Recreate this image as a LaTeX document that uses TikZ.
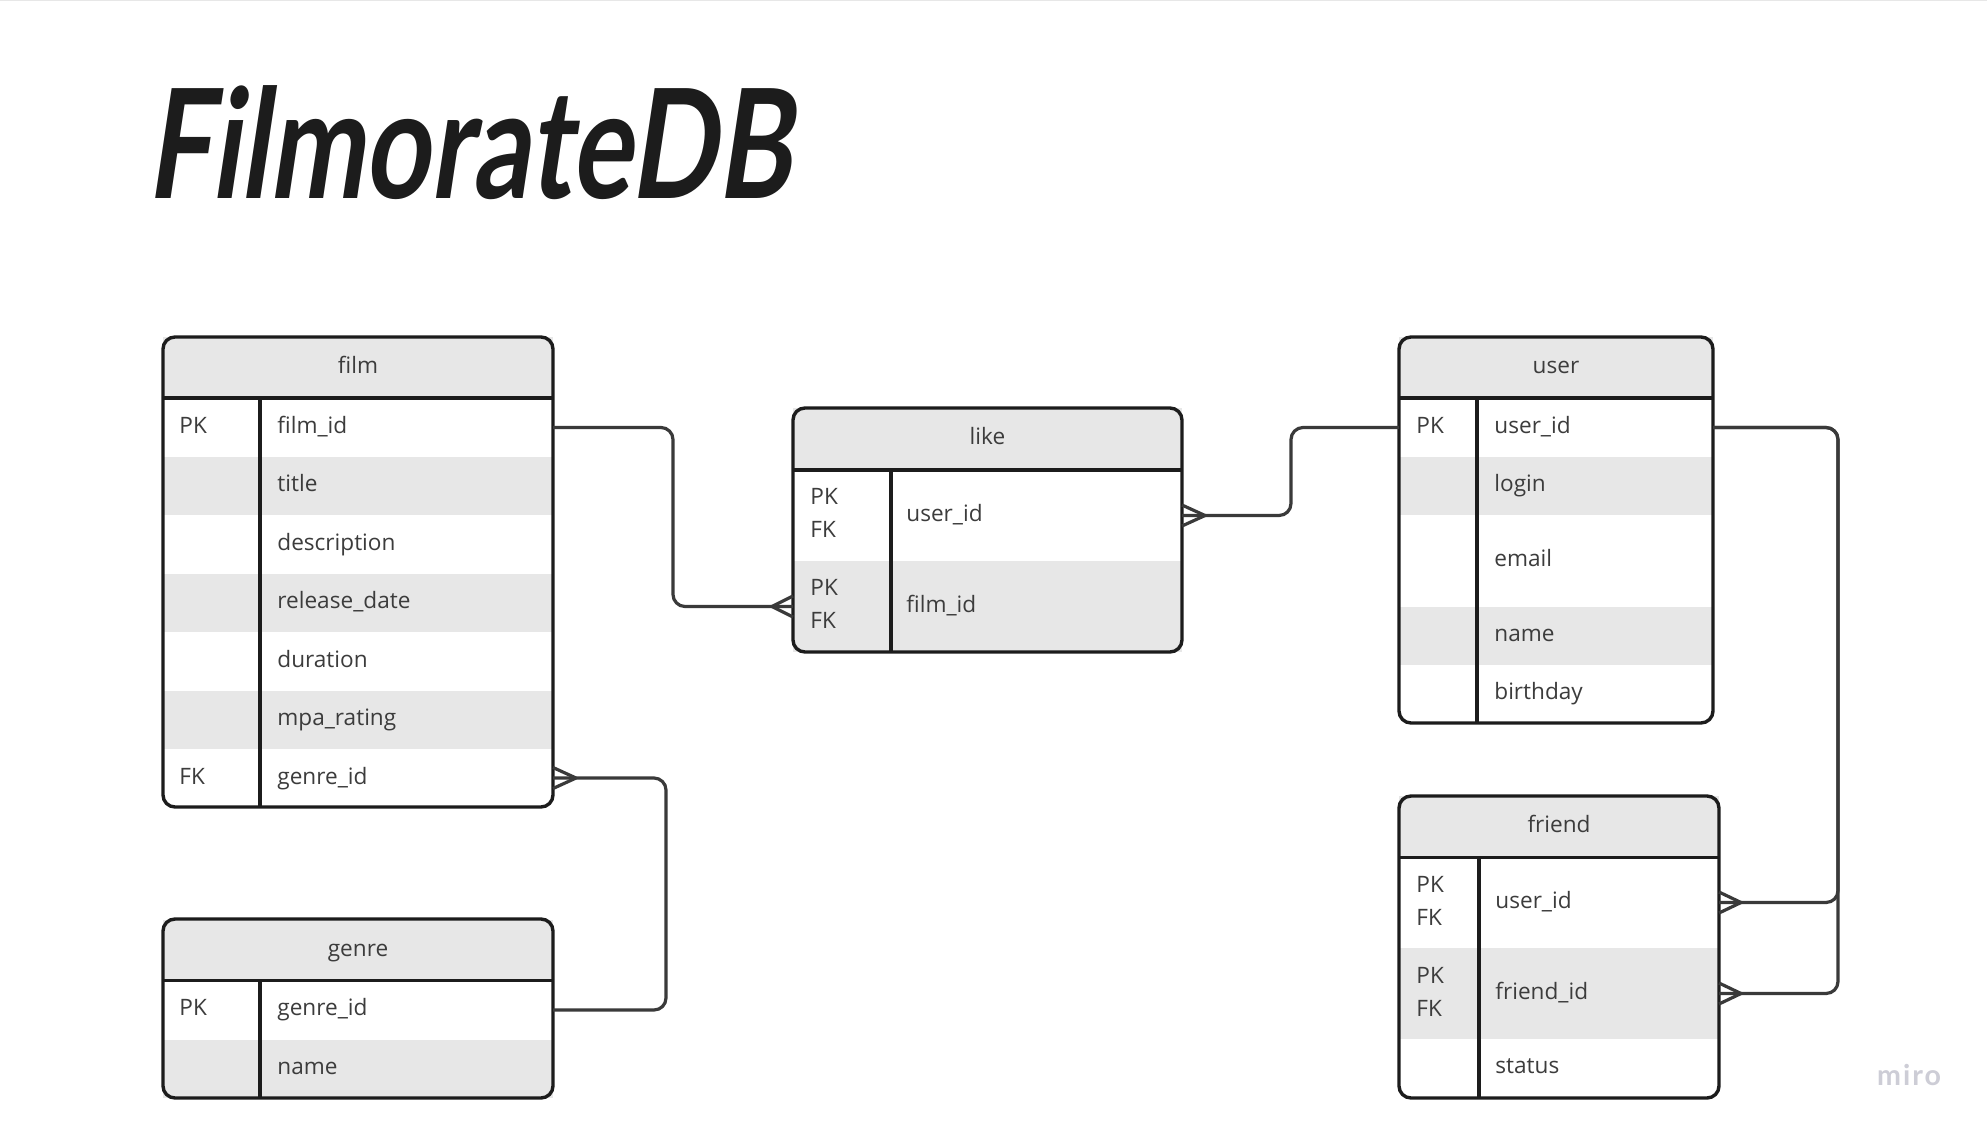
\documentclass[tikz,border=0pt]{standalone}
\usepackage{fontspec}
\setmainfont{Open Sans}
\newfontfamily\titlefont[FakeSlant=0.2]{Lato}
\newfontfamily\mironame{Lato}
\usetikzlibrary{positioning}
\definecolor{headgray}{HTML}{E7E7E7}
\definecolor{inkdark}{HTML}{1C1C1C}
\definecolor{linkgray}{HTML}{3A3A3A}
\definecolor{textgray}{HTML}{3C3C3C}
\definecolor{brandgray}{HTML}{CDCDD6}
\tikzset{
    tablebox/.style={draw=inkdark, line width=1.7pt, rounded corners=6pt, outer sep=0pt, inner sep=0pt},
    tableline/.style={draw=inkdark, line width=1.7pt},
    rowgray/.style={fill=headgray, outer sep=0pt, inner sep=0pt},
    rowwhite/.style={fill=white, outer sep=0pt, inner sep=0pt},
    cell/.style={anchor=west, inner sep=0pt, text=textgray, font=\fontsize{11.3}{16.5}\selectfont, text height=8.5pt, text depth=2.5pt},
    keycell/.style={anchor=west, inner sep=0pt, text=textgray, font=\fontsize{11.3}{16.5}\selectfont, align=left},
    headcell/.style={inner sep=0pt, text=textgray, font=\fontsize{11.3}{16.5}\selectfont, text height=8.5pt, text depth=2.5pt},
    link/.style={draw=linkgray, line width=1.6pt, rounded corners=6pt},
    crow/.style={draw=linkgray, line width=1.6pt, line join=round},
}

\begin{document}
\begin{tikzpicture}[x=0.5pt, y=-0.5pt]
    \useasboundingbox (0,0) rectangle (1987,1131);
    \fill[white] (0,0) rectangle (1987,1131);
    \draw[headgray, line width=0.5pt] (0,0.5) -- (1987,0.5);

    \node[anchor=base west, inner sep=0pt, text=inkdark] (title) at (146,198)
        {\scalebox{0.75}[1]{\fontsize{76}{76}\selectfont\titlefont\bfseries FilmorateDB}};

    % film
    \node[rowgray, minimum width=195pt, minimum height=30.5pt] (filmhead) at (358,367.5) {};
    \node[rowwhite, minimum width=195pt, minimum height=29pt] (filmid) at (358,427.5) {};
    \node[rowgray, minimum width=195pt, minimum height=29pt] (filmtitle) at (358,485.5) {};
    \node[rowgray, minimum width=195pt, minimum height=29pt] (filmrelease) at (358,603) {};
    \node[rowgray, minimum width=195pt, minimum height=29pt] (filmmpa) at (358,720) {};
    \node[rowwhite, minimum width=195pt, minimum height=29pt] (filmgenre) at (358,778) {};
    \draw[tableline] (filmhead.south west) -- (filmhead.south east);
    \draw[tableline] (260,398) -- (260,807);
    \node[tablebox, minimum width=195pt, minimum height=235pt] (film) at (358,572) {};
    \node[headcell] (filmname) at (358,367) {film};
    \node[cell] (filmidkey) at (179,427) {PK};
    \node[cell] (filmidname) at (277,427) {film\_id};
    \node[cell] (filmtitlename) at (277,485) {title};
    \node[cell] (filmdescname) at (277,544) {description};
    \node[cell] (filmreleasename) at (277,602) {release\_date};
    \node[cell] (filmdurname) at (277,661) {duration};
    \node[cell] (filmmpaname) at (277,719) {mpa\_rating};
    \node[cell] (filmgenrekey) at (179,778) {FK};
    \node[cell] (filmgenrename) at (277,778) {genre\_id};

    % genre
    \node[rowgray, minimum width=195pt, minimum height=30.5pt] (genrehead) at (358,950) {};
    \node[rowwhite, minimum width=195pt, minimum height=29.5pt] (genreid) at (358,1010) {};
    \node[rowgray, minimum width=195pt, minimum height=29pt] (genrerow) at (358,1069) {};
    \draw[tableline] (genrehead.south west) -- (genrehead.south east);
    \draw[tableline] (260,980) -- (260,1098);
    \node[tablebox, minimum width=195pt, minimum height=89.5pt] (genre) at (358,1008.5) {};
    \node[headcell] (genrename) at (358,950) {genre};
    \node[cell] (genreidkey) at (179,1009) {PK};
    \node[cell] (genreidname) at (277,1009) {genre\_id};
    \node[cell] (genrerowname) at (277,1068) {name};

    % like
    \node[rowgray, minimum width=194.5pt, minimum height=31pt] (likehead) at (987.5,439) {};
    \node[rowwhite, minimum width=194.5pt, minimum height=45.5pt] (likeuser) at (987.5,515.5) {};
    \node[rowgray, minimum width=194.5pt, minimum height=45.5pt] (likefilm) at (987.5,606.5) {};
    \draw[tableline] (likehead.south west) -- (likehead.south east);
    \draw[tableline] (891,470) -- (891,652);
    \node[tablebox, minimum width=194.5pt, minimum height=122pt] (like) at (987.5,530) {};
    \node[headcell] (likename) at (987.5,438) {like};
    \node[keycell] (likeuserkey) at (810,513) {PK\\FK};
    \node[cell] (likeusername) at (906,515) {user\_id};
    \node[keycell] (likefilmkey) at (810,604) {PK\\FK};
    \node[cell] (likefilmname) at (906,606) {film\_id};

    % user
    \node[rowgray, minimum width=157pt, minimum height=30.5pt] (userhead) at (1556,367.5) {};
    \node[rowwhite, minimum width=157pt, minimum height=29pt] (userid) at (1556,427.5) {};
    \node[rowgray, minimum width=157pt, minimum height=29pt] (userlogin) at (1556,485.5) {};
    \node[rowgray, minimum width=157pt, minimum height=29pt] (username) at (1556,636) {};
    \draw[tableline] (userhead.south west) -- (userhead.south east);
    \draw[tableline] (1477,398) -- (1477,723);
    \node[tablebox, minimum width=157pt, minimum height=193pt] (user) at (1556,530) {};
    \node[headcell] (usertitle) at (1556,367) {user};
    \node[cell] (useridkey) at (1416,427) {PK};
    \node[cell] (useridname) at (1494,427) {user\_id};
    \node[cell] (userloginname) at (1494,485) {login};
    \node[cell] (useremailname) at (1494,560) {email};
    \node[cell] (usernamename) at (1494,635) {name};
    \node[cell] (userbirthname) at (1494,693) {birthday};

    % friend
    \node[rowgray, minimum width=160pt, minimum height=31pt] (friendhead) at (1559,826.5) {};
    \node[rowwhite, minimum width=160pt, minimum height=45.5pt] (frienduser) at (1559,902.5) {};
    \node[rowgray, minimum width=160pt, minimum height=45.5pt] (friendfriend) at (1559,993.5) {};
    \draw[tableline] (friendhead.south west) -- (friendhead.south east);
    \draw[tableline] (1479,857) -- (1479,1098);
    \node[tablebox, minimum width=160pt, minimum height=151pt] (friend) at (1559,947) {};
    \node[headcell] (friendtitle) at (1559,826) {friend};
    \node[keycell] (frienduserkey) at (1416,901) {PK\\FK};
    \node[cell] (friendusername) at (1495,902) {user\_id};
    \node[keycell] (friendfriendkey) at (1416,992) {PK\\FK};
    \node[cell] (friendfriendname) at (1495,993) {friend\_id};
    \node[cell] (friendstatusname) at (1495,1067) {status};

    \node[inner sep=0pt, text=brandgray, font=\fontsize{14.3}{14}\selectfont\mironame\bfseries] (miro) at (1909,1075) {\addfontfeature{LetterSpace=7}miro};

    % connectors
    \coordinate (filmbend) at (673,0);
    \coordinate (genrebend) at (666,0);
    \coordinate (likebend) at (1291,0);
    \coordinate (friendbend) at (1838,0);

    \draw[link] (filmid.east) -- (filmid.east -| filmbend) -- (likefilm.west -| filmbend) -- (likefilm.west);
    \draw[crow] (likefilm.west) ++(-21,0) -- ++(21,-10.5) ++(-21,10.5) -- ++(21,10.5);

    \draw[link] (genreid.east) -- (genreid.east -| genrebend) -- (filmgenre.east -| genrebend) -- (filmgenre.east);
    \draw[crow] (filmgenre.east) ++(23,0) -- ++(-23,-10.5) ++(23,10.5) -- ++(-23,10.5);

    \draw[link] (userid.west) -- (userid.west -| likebend) -- (likeuser.east -| likebend) -- (likeuser.east);
    \draw[crow] (likeuser.east) ++(23,0) -- ++(-23,-10.5) ++(23,10.5) -- ++(-23,10.5);

    \draw[link] (userid.east) -- (userid.east -| friendbend) -- (frienduser.east -| friendbend) -- (frienduser.east);
    \draw[crow] (frienduser.east) ++(22,0) -- ++(-22,-10.5) ++(22,10.5) -- ++(-22,10.5);

    \draw[link] (userid.east) -- (userid.east -| friendbend) -- (friendfriend.east -| friendbend) -- (friendfriend.east);
    \draw[crow] (friendfriend.east) ++(22,0) -- ++(-22,-10.5) ++(22,10.5) -- ++(-22,10.5);

\end{tikzpicture}
\end{document}
